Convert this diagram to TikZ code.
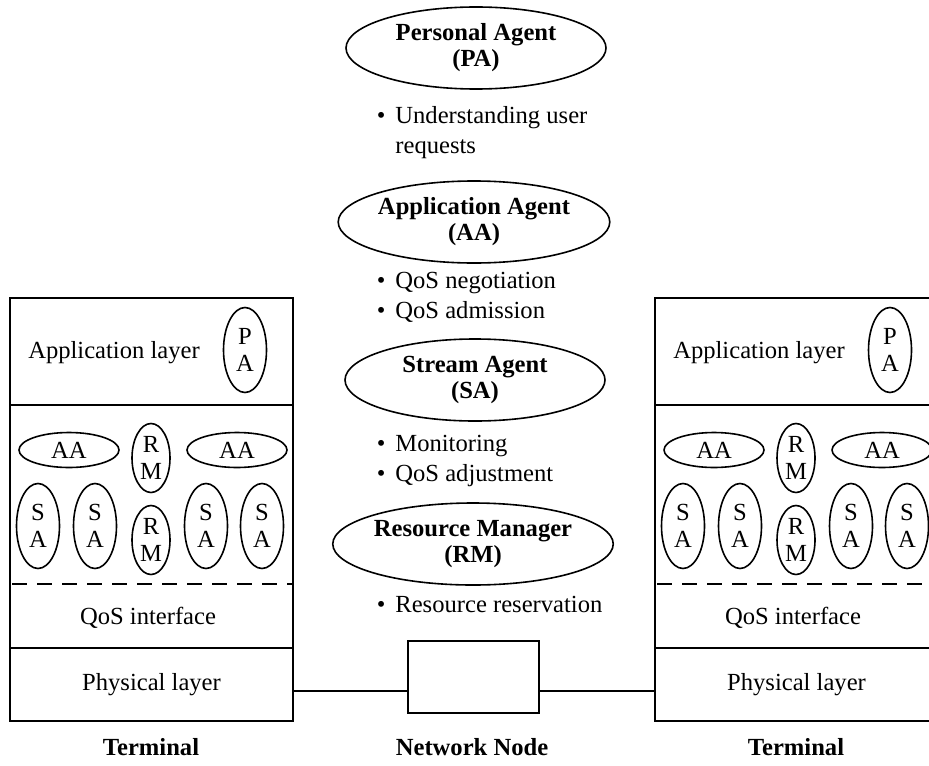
\documentclass[tikz,border=0pt]{standalone}
\usepackage{fontspec}
\setmainfont{Liberation Serif}
\usepackage{tikz}
\usetikzlibrary{shapes.geometric}

\begin{document}
\begin{tikzpicture}[x=0.5pt,y=-0.5pt,line width=0.8pt,
  every node/.style={font=\fontsize{12.3}{13.5}\selectfont,align=center,inner sep=0pt},
  agent/.style={draw,ellipse,minimum width=130pt,minimum height=41pt,font=\fontsize{12.3}{13}\selectfont\bfseries},
  duties/.style={anchor=west,align=left,font=\fontsize{12.3}{15}\selectfont},
  tallag/.style={draw,ellipse,minimum width=21.5pt,minimum height=42.5pt},
  rmag/.style={draw,ellipse,minimum width=19pt,minimum height=34.5pt},
  flatag/.style={draw,ellipse,minimum width=50pt,minimum height=17.5pt},
  frame/.style={line width=0.8pt},
  link/.style={line width=1.3pt},
  caption/.style={font=\fontsize{12.3}{13.5}\selectfont\bfseries}]
\useasboundingbox (0,0) rectangle (929,765);
\foreach \s/\dx in {L/0,R/645}{
  \begin{scope}[shift={(\dx,0)}]
    \draw[frame] (10,298) rectangle (293,721);
    \draw[frame] (10,405) -- (293,405);
    \draw[frame] (10,648) -- (293,648);
    \draw[frame,dash pattern=on 7.5pt off 5pt] (12,584) -- (293,584);
    \node (app\s) at (114,353) {Application layer};
    \node[tallag] (pa\s) at (245,350) {P\\A};
    \node[flatag] (aaa\s) at (69,450) {AA};
    \node[flatag] (aab\s) at (237,450) {AA};
    \node[rmag] (rma\s) at (151,458) {R\\M};
    \node[rmag] (rmb\s) at (151,540) {R\\M};
    \foreach \i/\x in {1/38,2/95,3/206,4/262}
      \node[tallag] (sa\i\s) at (\x,526) {S\\A};
    \node (qos\s) at (148,618) {QoS interface};
    \node[minimum width=141.5pt,minimum height=36.5pt,outer sep=0pt] (phys\s) at (151.5,684.5) {Physical layer};
    \node[caption] (term\s) at (151,747) {Terminal};
  \end{scope}
}
\node[agent] (pa) at (476,48) {Personal Agent\\(PA)};
\node[duties] (paduty) at (376,133) {\textbullet\hspace{5pt}Understanding user\\\hphantom{\textbullet\hspace{5pt}}requests};
\node[agent] (aa) at (474,222) {Application Agent\\(AA)};
\node[duties] (aaduty) at (376,297) {\textbullet\hspace{5pt}QoS negotiation\\\textbullet\hspace{5pt}QoS admission};
\node[agent] (sa) at (475,380) {Stream Agent\\(SA)};
\node[duties] (saduty) at (376,461) {\textbullet\hspace{5pt}Monitoring\\\textbullet\hspace{5pt}QoS adjustment};
\node[agent] (rm) at (473,544) {Resource Manager\\(RM)};
\node[duties] (rmduty) at (376,604) {\textbullet\hspace{5pt}Resource reservation};
\node[draw,minimum width=65.5pt,minimum height=36pt,outer sep=0pt] (net) at (473.5,677) {};
\node[caption] (netname) at (472,747) {Network Node};
\draw[link] ([yshift=-3.25pt]physL.east) -- ([yshift=-3.25pt]physL.east -| net.west);
\draw[link] ([yshift=-3.25pt]physR.west) -- ([yshift=-3.25pt]physR.west -| net.east);
\end{tikzpicture}
\end{document}
